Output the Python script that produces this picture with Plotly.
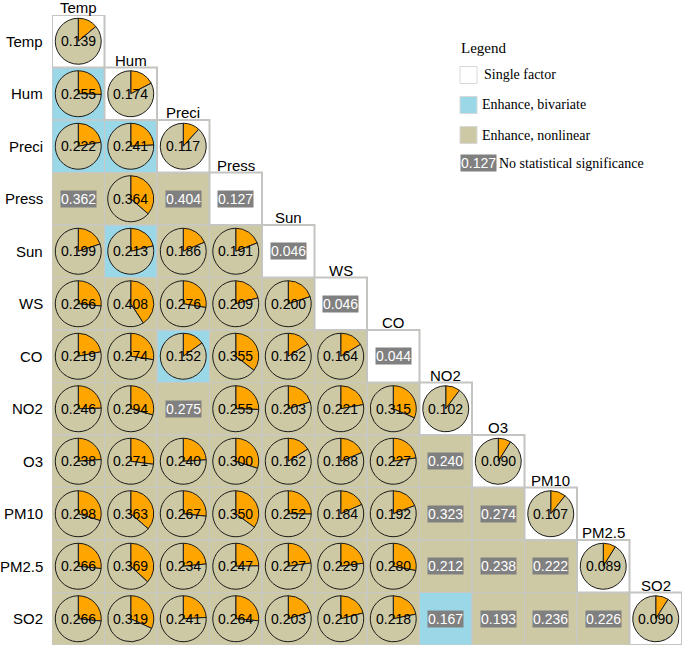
import plotly.graph_objects as go

FACTORS = ['Temp', 'Hum', 'Preci', 'Press', 'Sun', 'WS', 'CO',
           'NO2', 'O3', 'PM10', 'PM2.5', 'SO2']

# q values, lower triangle, one list per row
TEMP = [0.139]
HUM = [0.255, 0.174]
PRECI = [0.222, 0.241, 0.117]
PRESS = [0.362, 0.364, 0.404, 0.127]
SUN = [0.199, 0.213, 0.186, 0.191, 0.046]
WS = [0.266, 0.408, 0.276, 0.209, 0.200, 0.046]
CO = [0.219, 0.274, 0.152, 0.355, 0.162, 0.164, 0.044]
NO2 = [0.246, 0.294, 0.275, 0.255, 0.203, 0.221, 0.315, 0.102]
O3 = [0.238, 0.271, 0.240, 0.300, 0.162, 0.188, 0.227, 0.240, 0.090]
PM10 = [0.298, 0.363, 0.267, 0.350, 0.252, 0.184, 0.192, 0.323, 0.274, 0.107]
PM25 = [0.266, 0.369, 0.234, 0.247, 0.227, 0.229, 0.280, 0.212, 0.238, 0.222, 0.089]
SO2 = [0.266, 0.319, 0.241, 0.264, 0.203, 0.210, 0.218, 0.167, 0.193, 0.236, 0.226, 0.090]

ROWS = [TEMP, HUM, PRECI, PRESS, SUN, WS, CO, NO2, O3, PM10, PM25, SO2]

# (row, col) cells
BIVARIATE = [(1, 0), (2, 0), (2, 1), (4, 1), (6, 2), (11, 7)]
NOT_SIGNIFICANT = [(3, 0), (3, 2), (3, 3), (4, 4), (5, 5), (6, 6), (7, 2),
                   (8, 7), (9, 7), (9, 8), (10, 7), (10, 8), (10, 9),
                   (11, 7), (11, 8), (11, 9), (11, 10)]

COLORS = {
    'single': '#FFFFFF',
    'bivariate': '#9AD8E8',
    'nonlinear': '#CDC9A5',
    'slice': '#FFA500',
    'grid': '#C8C8C8',
    'ns': '#808080',
}
SANS = 'Liberation Sans, Arial, sans-serif'
SERIF = 'Liberation Serif, Times New Roman, serif'

W, H = 685, 648
GX0, GX1 = 52, 682
GY0, GY1 = 15, 645
n = len(FACTORS)
cell = (GX1 - GX0) / n
R = 23


def px(x):
    return x / W


def py(y):
    return 1 - y / H


# cell type matrix for the background heatmap
z = []
for r in range(n):
    row = []
    for c in range(n):
        if c > r:
            row.append(None)
        elif c == r:
            row.append(0)
        elif (r, c) in BIVARIATE:
            row.append(0.5)
        else:
            row.append(1)
    z.append(row)

fig = go.Figure()
fig.add_trace(go.Heatmap(
    z=z, x=list(range(n)), y=list(range(n)),
    colorscale=[[0, COLORS['single']], [0.25, COLORS['single']],
                [0.25, COLORS['bivariate']], [0.75, COLORS['bivariate']],
                [0.75, COLORS['nonlinear']], [1, COLORS['nonlinear']]],
    zmin=0, zmax=1, showscale=False, hoverinfo='skip'
))

shapes = []
annotations = []
for r, vals in enumerate(ROWS):
    for c, v in enumerate(vals):
        diag = r == c
        shapes.append(dict(
            type='rect', xref='x', yref='y', layer='above',
            x0=c - 0.5, x1=c + 0.5, y0=r - 0.5, y1=r + 0.5,
            line=dict(color='#C4C4C0' if diag else COLORS['grid'], width=2 if diag else 1)
        ))
        if (r, c) in NOT_SIGNIFICANT:
            annotations.append(dict(
                x=c, y=r, xref='x', yref='y', text=f'{v:.3f}', showarrow=False,
                font=dict(family=SANS, size=14, color='white'),
                bgcolor=COLORS['ns'], borderpad=0
            ))
            continue
        cx = GX0 + (c + 0.5) * cell
        cy = GY0 + (r + 0.5) * cell
        fig.add_trace(go.Pie(
            values=[v, 1 - v], sort=False, direction='clockwise', rotation=0,
            marker=dict(colors=[COLORS['slice'], COLORS['nonlinear']],
                        line=dict(color='#1a1a1a', width=1)),
            textinfo='none', hoverinfo='skip', showlegend=False,
            domain=dict(x=[px(cx - R), px(cx + R)], y=[py(cy + R), py(cy - R)])
        ))
        annotations.append(dict(
            x=c, y=r, xref='x', yref='y', text=f'{v:.3f}', showarrow=False,
            font=dict(family=SANS, size=14, color='black')
        ))

for i, name in enumerate(FACTORS):
    annotations.append(dict(
        x=-0.5, y=i, xref='x', yref='y', text=name, showarrow=False,
        xanchor='right', xshift=-7, font=dict(family=SANS, size=15, color='black')
    ))
    annotations.append(dict(
        x=i, y=i - 0.5, xref='x', yref='y', text=name, showarrow=False,
        yanchor='bottom', yshift=-2, borderpad=0,
        font=dict(family=SANS, size=15, color='black')
    ))

# legend
annotations.append(dict(x=px(459), y=py(48), xref='paper', yref='paper', text='Legend',
                        showarrow=False, xanchor='left', yanchor='middle',
                        font=dict(family=SERIF, size=15, color='black')))
legend_items = [
    (75, COLORS['single'], 'Single factor', 482),
    (105, COLORS['bivariate'], 'Enhance, bivariate', 480),
    (135, COLORS['nonlinear'], 'Enhance, nonlinear', 480),
]
for yc, col, label, tx in legend_items:
    shapes.append(dict(type='rect', xref='paper', yref='paper',
                       x0=px(460), x1=px(477), y0=py(yc + 8.5), y1=py(yc - 8.5),
                       fillcolor=col, line=dict(color='#D8D8D8', width=1)))
    annotations.append(dict(x=px(tx), y=py(yc), xref='paper', yref='paper', text=label,
                            showarrow=False, xanchor='left', yanchor='middle',
                            font=dict(family=SERIF, size=14, color='black')))
annotations.append(dict(x=px(460), y=py(163), xref='paper', yref='paper', text='0.127',
                        showarrow=False, xanchor='left', yanchor='middle', borderpad=0,
                        bgcolor=COLORS['ns'], font=dict(family=SANS, size=14, color='white')))
annotations.append(dict(x=px(497), y=py(163), xref='paper', yref='paper',
                        text='No statistical significance', showarrow=False,
                        xanchor='left', yanchor='middle',
                        font=dict(family=SERIF, size=14, color='black')))

fig.update_layout(
    width=W, height=H, autosize=False,
    margin=dict(l=0, r=0, t=0, b=0),
    paper_bgcolor='white', plot_bgcolor='white',
    xaxis=dict(domain=[px(GX0), px(GX1)], range=[-0.5, n - 0.5], visible=False, fixedrange=True),
    yaxis=dict(domain=[py(GY1), py(GY0)], range=[n - 0.5, -0.5], visible=False, fixedrange=True),
    shapes=shapes, annotations=annotations, showlegend=False
)

fig.write_html('out.html', config={'displayModeBar': False},
               post_script="document.body.style.margin='0';")
